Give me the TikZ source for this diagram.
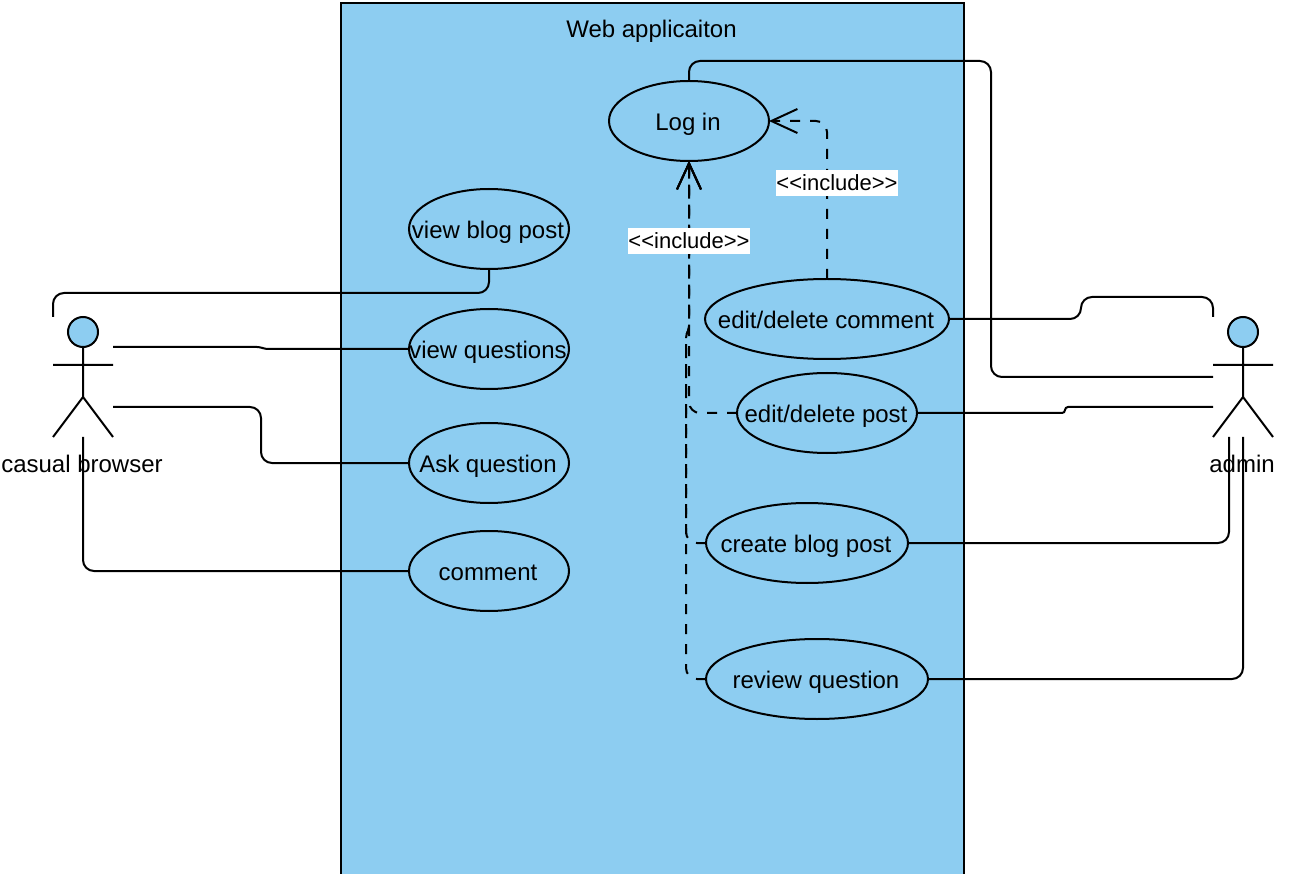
\documentclass[tikz,border=0pt]{standalone}
\usepackage{fontspec}
\setmainfont{Liberation Sans}
\usetikzlibrary{shapes.geometric,arrows.meta}
\definecolor{skyfill}{HTML}{8DCDF1}
\newcommand{\uctext}[1]{\makebox[0pt]{#1\kern2pt}}
\newcommand{\inctext}{{<}{<}include{>}{>}}
\tikzset{
  uc/.style={ellipse,draw=black,fill=skyfill,line width=2pt,inner sep=0pt,outer sep=0pt,minimum height=80pt,font=\fontsize{24}{28}\selectfont,text height=19pt,text depth=0pt},
  conn/.style={line width=2pt,draw=black,rounded corners=11pt},
  inc/.style={line width=2pt,draw=black,rounded corners=11pt,dash pattern=on 10pt off 10pt,-{Straight Barb[length=26pt,width=24pt,line width=2pt]}},
  inclabel/.style={fill=white,inner sep=0pt,outer sep=0pt,minimum width=122pt,minimum height=26pt,font=\fontsize{22}{26}\selectfont,text height=15pt,text depth=0pt},
  actorline/.style={line width=2pt,draw=black},
  actorname/.style={inner sep=0pt,font=\fontsize{24}{28}\selectfont,text height=17pt,text depth=0pt},
  head/.style={circle,draw=black,fill=skyfill,line width=2pt,minimum size=30pt,inner sep=0pt,outer sep=0pt},
  titletext/.style={inner sep=0pt,font=\fontsize{24}{28}\selectfont,text height=17pt,text depth=0pt}
}
\begin{document}
\begin{tikzpicture}[x=1pt,y=-1pt]
\useasboundingbox (0,0) rectangle (1296,874);
\fill[white] (0,0) rectangle (1296,874);
% system boundary
\draw[line width=2pt,fill=skyfill] (341,900) -- (341,3) -- (964,3) -- (964,900);
\node[titletext] (title) at (651.5,29.5) {Web applicaiton};
% use cases
\node[uc,minimum width=160pt] (login) at (689,121) {\uctext{Log in}};
\node[uc,minimum width=160pt] (blog) at (489,229) {\uctext{view blog post}};
\node[uc,minimum width=160pt] (questions) at (489,349) {\uctext{view questions}};
\node[uc,minimum width=160pt] (ask) at (489,463) {\uctext{Ask question}};
\node[uc,minimum width=160pt] (comment) at (489,571) {\uctext{comment}};
\node[uc,minimum width=244pt] (editc) at (827,319) {\uctext{edit/delete comment}};
\node[uc,minimum width=180pt] (editp) at (827,413) {\uctext{edit/delete post}};
\node[uc,minimum width=202pt] (create) at (807,543) {\uctext{create blog post}};
\node[uc,minimum width=222pt] (review) at (817,679) {\uctext{review question}};
% actors
\node[head] (cbhead) at (83,332) {};
\node[head] (adhead) at (1243,332) {};
\coordinate (cbHip) at (83,397);
\coordinate (adHip) at (1243,397);
\draw[actorline] (cbhead.south) -- (cbHip) (53,365) -- (113,365) (53,437) -- (cbHip) -- (113,437);
\draw[actorline] (adhead.south) -- (adHip) (1213,365) -- (1273,365) (1213,437) -- (adHip) -- (1273,437);
\coordinate (cbT) at (53,317);
\coordinate (cbR1) at (113,347);
\coordinate (cbR2) at (113,407);
\coordinate (cbB) at (83,437);
\coordinate (adT) at (1213,317);
\coordinate (adL1) at (1213,377);
\coordinate (adL2) at (1213,407);
\coordinate (adB1) at (1229,437);
\coordinate (adB2) at (1243,437);
% associations
\draw[conn] (blog.south) -- ++(0,24) -| (cbT);
\draw[conn,rounded corners=3pt] (cbR1) -- (260,347) -- (265,349) -- (questions.west);
\draw[conn] (cbR2) -- ++(148,0) |- (ask.west);
\draw[conn] (cbB) |- (comment.west);
\draw[conn] (login.north) -- ++(0,-20) -- ++(302,0) |- (adL1);
\draw[conn] (editc.east) -- ++(132,0) -- ++(0,-22) -| (adT);
\draw[conn,rounded corners=3pt] (editp.east) -- ++(148,0) -- ++(0,-6) -- (adL2);
\draw[conn] (create.east) -| (adB1);
\draw[conn] (review.east) -| (adB2);
% includes
\draw[inc] (editc.north) |- (login.east);
\draw[inc] (editp.west) -- (689,413) -- (login.south);
\draw[inc] (create.west) -- (686,543) -- (686,450) [rounded corners=2pt] -- (686,336) -- (689,328) -- (login.south);
\draw[inc] (review.west) -- (686,679) -- (686,450) [rounded corners=2pt] -- (686,336) -- (689,328) -- (login.south);
\node[inclabel] (inc1) at (837,183) {\inctext};
\node[inclabel] (inc2) at (689,241) {\inctext};
% actor names
\node[actorname] (cbname) at (82,464) {casual browser};
\node[actorname] (adname) at (1242,464) {admin};
\end{tikzpicture}
\end{document}
